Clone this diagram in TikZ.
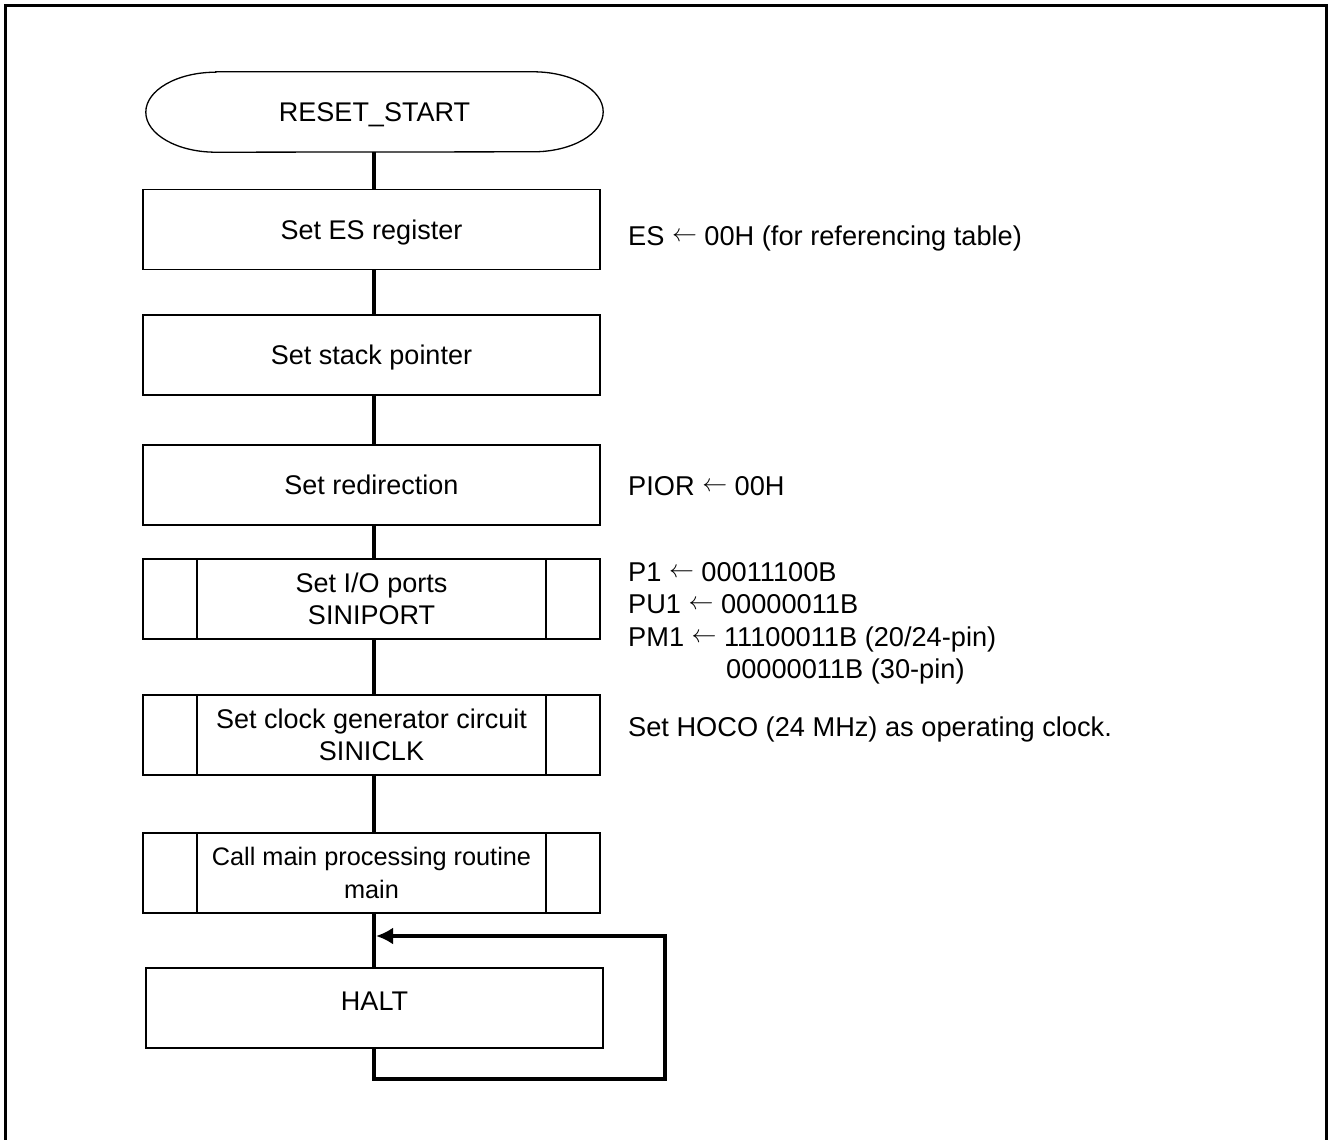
\documentclass[tikz,border=0pt]{standalone}
\usepackage{fontspec}
\setmainfont{Liberation Sans}
\usetikzlibrary{arrows.meta}
\newcommand{\lar}{{\fontsize{23}{23}\selectfont\raisebox{4pt}{$\leftarrow$}}}
\begin{document}
\begin{tikzpicture}[x=1pt,y=-1pt,
  txt/.style={font=\fontsize{27}{32.5}\selectfont, inner sep=0pt},
  boxnode/.style={draw, line width=1.8pt, minimum width=457pt, minimum height=80pt, inner sep=0pt, align=center, font=\fontsize{27}{32.5}\selectfont},
  oneline/.style={text height=19.3pt, text depth=0pt},
  conn/.style={line width=4pt},
  note/.style={font=\fontsize{27.2}{32.5}\selectfont, inner sep=0pt, anchor=base west}]
\useasboundingbox (0,0) rectangle (1328,1140);
\draw[line width=3pt] (5,6) rectangle (1326,1200);

% terminal
\node (start) [txt, oneline, minimum width=457pt, minimum height=80pt] at (374.5,112) {RESET\_START};
\draw[line width=1.3pt] ([xshift=70pt]start.north west) -- ([xshift=-70pt]start.north east)
  arc[start angle=90,end angle=-90,x radius=70pt,y radius=40pt]
  -- ([xshift=70pt]start.south west)
  arc[start angle=270,end angle=90,x radius=70pt,y radius=40pt] -- cycle;

\node (b1) [boxnode, oneline] at (371.5,229.5) {Set ES register};
\node (b2) [boxnode, oneline] at (371.5,355) {Set stack pointer};
\node (b3) [boxnode, oneline] at (371.5,485) {Set redirection};
\node (b4) [boxnode] at (371.5,599) {Set I/O ports\\SINIPORT};
\node (b5) [boxnode] at (371.5,735) {Set clock generator circuit\\SINICLK};
\node (b6) [boxnode, font=\fontsize{25.3}{32.5}\selectfont] at (371.5,873) {Call main processing routine\\main};
\node (halt) [boxnode] at (374.5,1008) {};
\node (halttxt) [txt] at (374.5,1001) {HALT};

\foreach \b in {b4,b5,b6}{
  \draw[line width=1.8pt] ([xshift=55pt]\b.north west) -- ([xshift=55pt]\b.south west);
  \draw[line width=1.8pt] ([xshift=-55pt]\b.north east) -- ([xshift=-55pt]\b.south east);
}

% connectors
\draw[conn] ([xshift=-0.5pt]start.south) -- ([xshift=2.5pt]b1.north);
\draw[conn] ([xshift=2.5pt]b1.south) -- ([xshift=2.5pt]b2.north);
\draw[conn] ([xshift=2.5pt]b2.south) -- ([xshift=2.5pt]b3.north);
\draw[conn] ([xshift=2.5pt]b3.south) -- ([xshift=2.5pt]b4.north);
\draw[conn] ([xshift=2.5pt]b4.south) -- ([xshift=2.5pt]b5.north);
\draw[conn] ([xshift=2.5pt]b5.south) -- ([xshift=2.5pt]b6.north);
\draw[conn] ([xshift=2.5pt]b6.south) -- ([xshift=-0.5pt]halt.north);
\coordinate (join) at (374,936);
\coordinate (lb) at (374,1079);
\coordinate (rb) at (665,1079);
\coordinate (rt) at (665,936);
\draw[conn, line join=miter, -{Latex[length=17pt,width=17pt]}, shorten >=2pt]
  ([xshift=-0.5pt]halt.south) -- (lb) -- (rb) -- (rt) -- (join);

% notes
\node (n1) [note] at (628,245) {ES \lar{} 00H (for referencing table)};
\node (n2) [note] at (628,495) {PIOR \lar{} 00H};
\node (n3) [note] at (628,581.5) {P1 \lar{} 00011100B};
\node (n4) [note] at (628,613.8) {PU1 \lar{} 00000011B};
\node (n5) [note] at (628,646.1) {PM1 \lar{} 11100011B (20/24-pin)};
\node (n6) [note] at (726,678.4) {00000011B (30-pin)};
\node (n7) [note] at (628,736.5) {Set HOCO (24 MHz) as operating clock.};
\end{tikzpicture}
\end{document}
